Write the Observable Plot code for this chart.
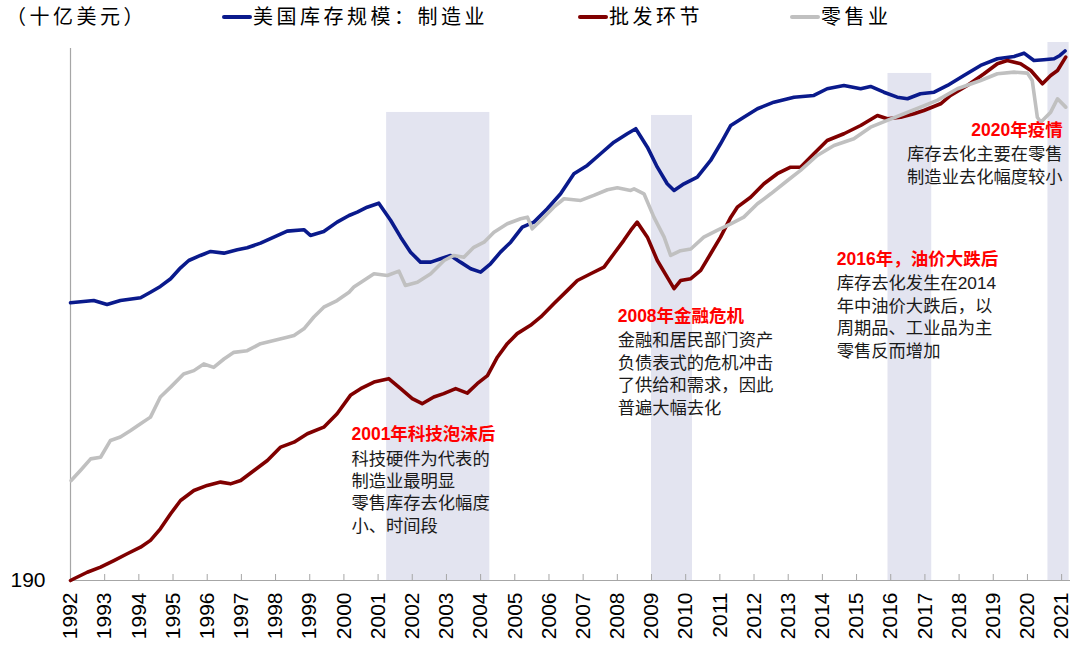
<!DOCTYPE html>
<html><head><meta charset="utf-8">
<script src="https://cdn.jsdelivr.net/npm/d3@7"></script>
<script src="https://cdn.jsdelivr.net/npm/@observablehq/plot@0.6"></script>
<style>
body{margin:0;background:#fff;font-family:"Liberation Sans","Noto Sans CJK SC",sans-serif;}
#wrap{position:relative;width:1080px;height:654px;overflow:hidden;}
#header{position:relative;height:30px;}
.h{position:absolute;top:3px;font-size:20px;letter-spacing:3.5px;line-height:28px;color:#000;white-space:nowrap;}
.sw{position:absolute;top:15px;height:4px;border-radius:2px;}
</style></head><body>
<div id="wrap"><div id="header"></div><div id="chart"></div></div>
<script>
// ---- data (十亿美元) ----
const unitLabel = "（十亿美元）";
const seriesNames = ["美国库存规模：制造业", "批发环节", "零售业"];
const seriesColors = ["#0a1a8c", "#800000", "#c0c0c0"];

const mfgYears = [1992.0,1992.68,1993.07,1993.46,1994.05,1994.34,1994.63,1994.93,1995.22,1995.46,1995.8,1996.1,1996.49,1996.88,1997.17,1997.56,1997.95,1998.34,1998.83,1999.02,1999.41,1999.8,2000.15,2000.39,2000.68,2001.02,2001.37,2001.66,2001.95,2002.24,2002.54,2002.83,2003.12,2003.41,2003.71,2004.0,2004.29,2004.58,2004.88,2005.22,2005.56,2005.95,2006.34,2006.73,2007.12,2007.51,2007.9,2008.29,2008.54,2008.88,2009.17,2009.46,2009.66,2009.95,2010.34,2010.73,2011.02,2011.32,2011.7,2012.1,2012.58,2013.17,2013.75,2014.14,2014.63,2015.12,2015.41,2015.8,2016.19,2016.49,2016.87,2017.27,2017.66,2018.14,2018.63,2019.12,2019.61,2019.9,2020.19,2020.48,2020.78,2020.95,2021.1];
const mfgValues = [370,372,368.5,372,374.5,379.5,384.8,392,402.4,409.5,414.5,418.5,416.8,420.2,422.2,426.9,433.1,439.4,440.9,434.9,439,449,456.2,459.9,465.4,469.9,450.8,433.1,417.8,407.9,407.9,411.2,414.5,407.9,401.5,398.2,406.3,417.8,427.9,443.6,449,463.6,480.6,504.3,514.4,529.1,544,555.1,561.8,537.5,512.3,492.3,484.5,492.3,500.2,520.6,541.9,566.2,577.6,589.4,598.8,606,608.5,618.4,623.3,618.4,621.8,613.3,606,603.7,611,613.3,623.3,638.4,654,664.5,668.2,673.5,661.8,663,664.5,669.8,677];

const wsYears = [1992.0,1992.1,1992.49,1992.88,1993.27,1993.66,1994.05,1994.34,1994.63,1994.93,1995.22,1995.61,1996.0,1996.39,1996.68,1996.98,1997.37,1997.76,1998.15,1998.54,1998.93,1999.41,1999.8,2000.19,2000.49,2000.88,2001.31,2001.66,2002.0,2002.29,2002.63,2002.92,2003.27,2003.61,2003.9,2004.2,2004.49,2004.78,2005.07,2005.46,2005.76,2006.14,2006.54,2006.83,2007.22,2007.61,2007.9,2008.19,2008.39,2008.58,2008.88,2009.17,2009.46,2009.66,2009.85,2010.15,2010.44,2010.73,2011.02,2011.32,2011.51,2011.9,2012.29,2012.68,2013.07,2013.36,2013.75,2014.14,2014.63,2015.12,2015.61,2015.9,2016.29,2016.68,2016.97,2017.46,2017.75,2018.24,2018.73,2019.12,2019.41,2019.8,2020.1,2020.44,2020.68,2020.88,2021.12];
const wsValues = [190,190.8,193.8,196.2,199.3,202.6,205.8,209.2,215.1,223,230.2,235.8,238.7,240.6,239.6,241.5,247.4,253.4,261.7,264.8,270.2,274.5,283.5,296.3,301.1,305.9,308.4,301.1,293.9,290.4,295.1,297.5,301.1,297.9,304.7,310.6,324.7,335.4,343.6,350.5,357.6,369.1,381.2,390.3,396.7,403,416.2,429.8,440.1,449,433.1,409.5,393.5,382.8,390.3,392,399.9,416.2,433.1,454.4,465.4,476.7,492.3,504.3,512.3,512.3,529.1,546.2,555.1,566.2,580,575.4,577.6,582.4,587,596.5,608.5,623.3,641.1,656.6,661.8,656.6,646.1,625.9,638.4,646.1,667.1];

const rtYears = [1992.02,1992.29,1992.59,1992.88,1993.17,1993.46,1993.76,1994.05,1994.34,1994.63,1994.93,1995.31,1995.61,1995.9,1996.19,1996.49,1996.78,1997.17,1997.56,1997.95,1998.34,1998.54,1998.83,1999.12,1999.41,1999.8,2000.15,2000.29,2000.58,2000.88,2001.27,2001.61,2001.8,2002.15,2002.54,2002.93,2003.22,2003.51,2003.8,2004.1,2004.39,2004.78,2005.17,2005.37,2005.51,2005.76,2006.14,2006.44,2006.93,2007.31,2007.71,2008.0,2008.39,2008.49,2008.78,2009.07,2009.37,2009.56,2009.85,2010.15,2010.53,2010.92,2011.32,2011.7,2012.1,2012.49,2012.98,2013.36,2013.85,2014.34,2014.92,2015.41,2015.9,2016.39,2016.87,2017.36,2017.95,2018.63,2019.12,2019.61,2020.0,2020.14,2020.29,2020.39,2020.68,2020.88,2021.12];
const rtValues = [241.5,247.4,254.4,255.4,265.9,268.1,272.3,276.7,281.2,295.1,302.2,311.9,314.4,319.5,316.9,323.3,328.5,329.8,335.4,338,340.7,342.1,347.6,357.6,366.1,372,379.5,384.3,390.3,396.7,395,399.2,385.7,388.7,396.7,409.5,414.5,412.7,422.7,427.9,438.3,447.2,452.6,454.4,441.9,450.8,465.4,474.9,473,478.7,485.3,487.6,484.5,486.4,480.6,454.4,433.1,414.5,419.3,421,433.1,440.1,447.2,454.4,469.2,480.6,496.2,508.3,526.9,539.7,548.4,563.9,573.1,582.4,591.7,601.3,618.4,630.8,641.1,643.5,642,630.8,577.6,570.7,584.6,603.7,591.7];

// shaded destocking periods
const bandStart = [2001.25, 2009.0, 2015.92, 2020.6];
const bandEnd   = [2004.27, 2010.2, 2017.2, 2021.22];
const bandTop   = [584.2, 580, 641.5, 691];

const tickYears = d3.range(1992, 2022);
const yTicks = [190];

// annotations
const noteX = [2000.22, 2008.01, 2014.42, 2021.03];
const noteY = [269.7, 358, 410.5, 559.5];
const noteAnchor = ["start", "start", "start", "end"];
const noteTitles = ["2001年科技泡沫后", "2008年金融危机", "2016年，油价大跌后", "2020年疫情"];
const noteBodies = [
  "科技硬件为代表的\n制造业最明显\n零售库存去化幅度\n小、时间段",
  "金融和居民部门资产\n负债表式的危机冲击\n了供给和需求，因此\n普遍大幅去化",
  "库存去化发生在2014\n年中油价大跌后，以\n周期品、工业品为主\n零售反而增加",
  "库存去化主要在零售\n制造业去化幅度较小"
];

// ---- header (unit + legend) ----
const header = document.getElementById("header");
const unit = document.createElement("div");
unit.className = "h"; unit.style.left = "6px"; unit.textContent = unitLabel;
header.appendChild(unit);
const legendSwatchX = [222, 578, 790];
seriesNames.forEach((name, i) => {
  const sw = document.createElement("div");
  sw.className = "sw";
  sw.style.left = legendSwatchX[i] + "px";
  sw.style.width = "30px";
  sw.style.background = seriesColors[i];
  header.appendChild(sw);
  const t = document.createElement("div");
  t.className = "h";
  t.style.left = (legendSwatchX[i] + 31) + "px";
  t.textContent = name;
  header.appendChild(t);
});

// ---- build tables ----
const series = [[mfgYears, mfgValues], [wsYears, wsValues], [rtYears, rtValues]];
const rows = [];
series.forEach(([ys, vs], i) => ys.forEach((y, j) => rows.push({series: seriesNames[i], year: y, value: vs[j]})));
const bands = bandStart.map((s, i) => ({start: s, end: bandEnd[i], top: bandTop[i]}));
const notes = noteX.map((x, i) => ({x, y: noteY[i], anchor: noteAnchor[i], title: noteTitles[i], body: noteBodies[i]}));

function noteMarks(anchor) {
  const data = notes.filter(d => d.anchor === anchor);
  return [
    Plot.text(data, {x: "x", y: "y", text: "title", textAnchor: anchor, fill: "#ff0000", fontWeight: "bold", fontSize: 17.5, lineAnchor: "middle"}),
    Plot.text(data, {x: "x", y: "y", text: "body", textAnchor: anchor, fill: "#1a1a1a", fontSize: 17.3, lineAnchor: "top", lineHeight: 1.3, dy: 14})
  ];
}

const font = "Liberation Sans, Noto Sans CJK SC, sans-serif";
const chart = Plot.plot({
  width: 1080, height: 624,
  marginTop: 10, marginBottom: 74, marginLeft: 70, marginRight: 10,
  style: {fontFamily: font, background: "#fff", overflow: "visible", color: "#000"},
  x: {domain: [1992, 2021.26]},
  y: {type: "log", domain: [190, 694.3]},
  color: {domain: seriesNames, range: seriesColors},
  marks: [
    Plot.rectY(bands, {x1: "start", x2: "end", y1: 190, y2: "top", fill: "#e3e4f0"}),
    Plot.ruleY(yTicks, {stroke: "#a6a6a6", strokeWidth: 1.2}),
    Plot.ruleX([1992], {y1: 190, y2: 681, stroke: "#a6a6a6", strokeWidth: 1.2}),
    Plot.tickX(tickYears, {x: d => d, stroke: "#a6a6a6", insetTop: 534}),
    Plot.axisX({ticks: tickYears, tickFormat: d => String(d), tickSize: 0, tickPadding: 12, tickRotate: -90, fontSize: 21, label: null, fill: "#000"}),
    Plot.axisY({ticks: yTicks, tickFormat: d => String(d), tickSize: 0, tickPadding: 25, fontSize: 21, label: null, fill: "#000"}),
    Plot.line(rows, {x: "year", y: "value", z: "series", stroke: "series", strokeWidth: 3.6, strokeLinejoin: "round", strokeLinecap: "round"}),
    ...noteMarks("start"),
    ...noteMarks("end")
  ]
});
document.getElementById("chart").appendChild(chart);
</script></body></html>
